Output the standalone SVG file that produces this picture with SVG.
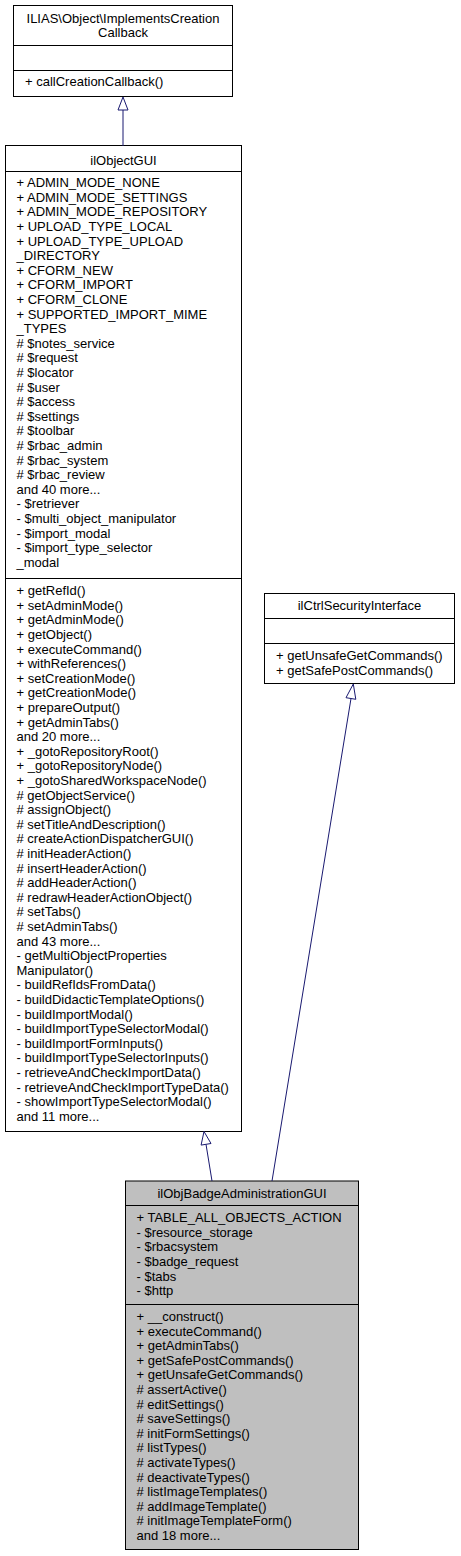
<svg xmlns="http://www.w3.org/2000/svg" width="461" height="1556" viewBox="0 0 461 1556">
<style>
text{font-family:"Liberation Sans",Arial,sans-serif;font-size:13px;fill:#000}
.t{text-anchor:middle}
.box{fill:#fff;stroke:#000;stroke-width:1}
.cur{fill:#bfbfbf;stroke:#000;stroke-width:1}
.sep{stroke:#000;stroke-width:1}
.edge{stroke:#191970;stroke-width:1;fill:none}
.head{stroke:#191970;stroke-width:1;fill:#fff}
</style>
<rect width="461" height="1556" fill="#fff"/>
<g id="node-ImplementsCreationCallback">
<rect class="box" x="13.5" y="5.5" width="219" height="91"/>
<text class="t" x="123" y="22.8">ILIAS\Object\ImplementsCreation</text>
<text class="t" x="123" y="36.8">Callback</text>
<line class="sep" x1="13.5" y1="45.5" x2="232.5" y2="45.5"/>
<line class="sep" x1="13.5" y1="70.5" x2="232.5" y2="70.5"/>
<text x="25" y="86.2">+ callCreationCallback()</text>
</g>
<g id="node-ilObjectGUI">
<rect class="box" x="5.5" y="145.5" width="236" height="986"/>
<text class="t" x="123.5" y="164.5">ilObjectGUI</text>
<line class="sep" x1="5.5" y1="171.5" x2="241.5" y2="171.5"/>
<text x="16.5" y="187.2">+ ADMIN_MODE_NONE</text>
<text x="16.5" y="201.8">+ ADMIN_MODE_SETTINGS</text>
<text x="16.5" y="216.4">+ ADMIN_MODE_REPOSITORY</text>
<text x="16.5" y="231.0">+ UPLOAD_TYPE_LOCAL</text>
<text x="16.5" y="245.6">+ UPLOAD_TYPE_UPLOAD</text>
<text x="16.5" y="260.2">_DIRECTORY</text>
<text x="16.5" y="274.8">+ CFORM_NEW</text>
<text x="16.5" y="289.4">+ CFORM_IMPORT</text>
<text x="16.5" y="304.0">+ CFORM_CLONE</text>
<text x="16.5" y="318.6">+ SUPPORTED_IMPORT_MIME</text>
<text x="16.5" y="333.2">_TYPES</text>
<text x="16.5" y="347.8"># $notes_service</text>
<text x="16.5" y="362.4"># $request</text>
<text x="16.5" y="377.0"># $locator</text>
<text x="16.5" y="391.6"># $user</text>
<text x="16.5" y="406.2"># $access</text>
<text x="16.5" y="420.8"># $settings</text>
<text x="16.5" y="435.4"># $toolbar</text>
<text x="16.5" y="450.0"># $rbac_admin</text>
<text x="16.5" y="464.6"># $rbac_system</text>
<text x="16.5" y="479.2"># $rbac_review</text>
<text x="16.5" y="493.8">and 40 more...</text>
<text x="16.5" y="508.4">- $retriever</text>
<text x="16.5" y="523.0">- $multi_object_manipulator</text>
<text x="16.5" y="537.6">- $import_modal</text>
<text x="16.5" y="552.2">- $import_type_selector</text>
<text x="16.5" y="566.8">_modal</text>
<line class="sep" x1="5.5" y1="578.5" x2="241.5" y2="578.5"/>
<text x="16.5" y="595.2">+ getRefId()</text>
<text x="16.5" y="609.8">+ setAdminMode()</text>
<text x="16.5" y="624.4">+ getAdminMode()</text>
<text x="16.5" y="639.0">+ getObject()</text>
<text x="16.5" y="653.6">+ executeCommand()</text>
<text x="16.5" y="668.2">+ withReferences()</text>
<text x="16.5" y="682.8">+ setCreationMode()</text>
<text x="16.5" y="697.4">+ getCreationMode()</text>
<text x="16.5" y="712.0">+ prepareOutput()</text>
<text x="16.5" y="726.6">+ getAdminTabs()</text>
<text x="16.5" y="741.2">and 20 more...</text>
<text x="16.5" y="755.8">+ _gotoRepositoryRoot()</text>
<text x="16.5" y="770.4">+ _gotoRepositoryNode()</text>
<text x="16.5" y="785.0">+ _gotoSharedWorkspaceNode()</text>
<text x="16.5" y="799.6"># getObjectService()</text>
<text x="16.5" y="814.2"># assignObject()</text>
<text x="16.5" y="828.8"># setTitleAndDescription()</text>
<text x="16.5" y="843.4"># createActionDispatcherGUI()</text>
<text x="16.5" y="858.0"># initHeaderAction()</text>
<text x="16.5" y="872.6"># insertHeaderAction()</text>
<text x="16.5" y="887.2"># addHeaderAction()</text>
<text x="16.5" y="901.8"># redrawHeaderActionObject()</text>
<text x="16.5" y="916.4"># setTabs()</text>
<text x="16.5" y="931.0"># setAdminTabs()</text>
<text x="16.5" y="945.6">and 43 more...</text>
<text x="16.5" y="960.2">- getMultiObjectProperties</text>
<text x="16.5" y="974.8">Manipulator()</text>
<text x="16.5" y="989.4">- buildRefIdsFromData()</text>
<text x="16.5" y="1004.0">- buildDidacticTemplateOptions()</text>
<text x="16.5" y="1018.6">- buildImportModal()</text>
<text x="16.5" y="1033.2">- buildImportTypeSelectorModal()</text>
<text x="16.5" y="1047.8">- buildImportFormInputs()</text>
<text x="16.5" y="1062.4">- buildImportTypeSelectorInputs()</text>
<text x="16.5" y="1077.0">- retrieveAndCheckImportData()</text>
<text x="16.5" y="1091.6">- retrieveAndCheckImportTypeData()</text>
<text x="16.5" y="1106.2">- showImportTypeSelectorModal()</text>
<text x="16.5" y="1120.8">and 11 more...</text>
</g>
<g id="node-ilCtrlSecurityInterface">
<rect class="box" x="264.5" y="593.5" width="190" height="90"/>
<text class="t" x="359.5" y="609.5">ilCtrlSecurityInterface</text>
<line class="sep" x1="264.5" y1="618.5" x2="454.5" y2="618.5"/>
<line class="sep" x1="264.5" y1="643.5" x2="454.5" y2="643.5"/>
<text x="276" y="660.2">+ getUnsafeGetCommands()</text>
<text x="276" y="674.8">+ getSafePostCommands()</text>
</g>
<g id="node-ilObjBadgeAdministrationGUI">
<rect class="cur" x="125.5" y="1181" width="233" height="368.5"/>
<text class="t" x="242" y="1197.8">ilObjBadgeAdministrationGUI</text>
<line class="sep" x1="125.5" y1="1205.5" x2="358.5" y2="1205.5"/>
<text x="136.5" y="1222.2">+ TABLE_ALL_OBJECTS_ACTION</text>
<text x="136.5" y="1236.8">- $resource_storage</text>
<text x="136.5" y="1251.4">- $rbacsystem</text>
<text x="136.5" y="1266.0">- $badge_request</text>
<text x="136.5" y="1280.6">- $tabs</text>
<text x="136.5" y="1295.2">- $http</text>
<line class="sep" x1="125.5" y1="1304.5" x2="358.5" y2="1304.5"/>
<text x="136.5" y="1321.0">+ __construct()</text>
<text x="136.5" y="1335.6">+ executeCommand()</text>
<text x="136.5" y="1350.2">+ getAdminTabs()</text>
<text x="136.5" y="1364.8">+ getSafePostCommands()</text>
<text x="136.5" y="1379.4">+ getUnsafeGetCommands()</text>
<text x="136.5" y="1394.0"># assertActive()</text>
<text x="136.5" y="1408.6"># editSettings()</text>
<text x="136.5" y="1423.2"># saveSettings()</text>
<text x="136.5" y="1437.8"># initFormSettings()</text>
<text x="136.5" y="1452.4"># listTypes()</text>
<text x="136.5" y="1467.0"># activateTypes()</text>
<text x="136.5" y="1481.6"># deactivateTypes()</text>
<text x="136.5" y="1496.2"># listImageTemplates()</text>
<text x="136.5" y="1510.8"># addImageTemplate()</text>
<text x="136.5" y="1525.4"># initImageTemplateForm()</text>
<text x="136.5" y="1540.0">and 18 more...</text>
</g>
<g id="connectors">
<line class="edge" x1="123" y1="146" x2="123" y2="110"/>
<polygon class="head" points="123,97 118,110 128,110"/>
<line class="edge" x1="212" y1="1181" x2="206" y2="1144.3"/>
<polygon class="head" points="204,1131.5 201.1,1145.1 211,1143.5"/>
<line class="edge" x1="272" y1="1181" x2="351" y2="698.5"/>
<polygon class="head" points="353.3,684 346,697.7 355.8,699.3"/>
</g>
</svg>
